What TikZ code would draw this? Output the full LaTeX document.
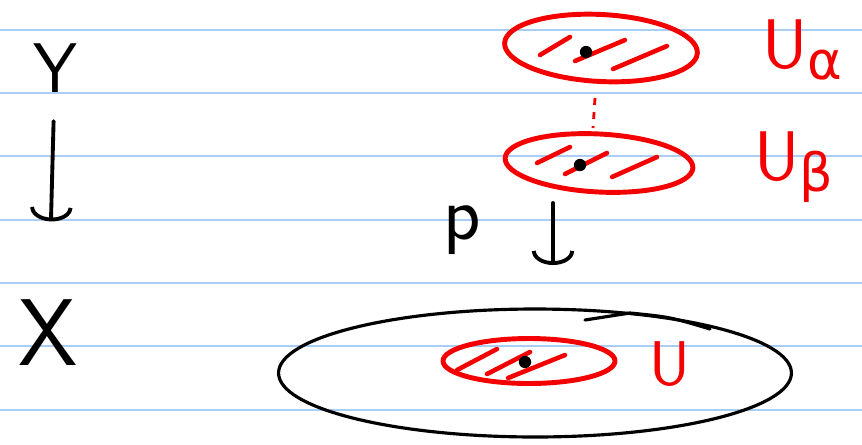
\documentclass[tikz,border=0pt]{standalone}
\usepackage{fontspec}
\newfontfamily\greek{DejaVu Sans}
\usepackage{tikz}
\usetikzlibrary{shapes.geometric, arrows.meta, positioning, calc}
\definecolor{rulecol}{RGB}{170,205,245}
\definecolor{pen}{RGB}{245,0,0}

\begin{document}
\begin{tikzpicture}[x=0.02cm, y=-0.02cm,
  rule/.style={draw=rulecol, line width=1pt},
  region/.style={draw=pen, ellipse, line width=2.8pt, inner sep=0pt},
  base/.style={draw, ellipse, line width=1.8pt, inner sep=0pt},
  hatch/.style={pen, line width=2.6pt, line cap=round},
  arrow/.style={-{Arc Barb[length=8pt, width=24pt]}, line width=2.2pt, line cap=round},
  lbl/.style={font=\fontsize{40}{44}\selectfont\sffamily},
  spot/.style={circle, fill, inner sep=0pt, minimum size=7pt}]
  \useasboundingbox[fill=white] (0,0) rectangle (862,444);
  % ruled paper
  \foreach \y in {30,93,156,220,283,346,410}
    \draw[rule] (0,\y) -- (862,\y);
  % spaces and projection
  \node[lbl] (Y) at (55,68) {Y};
  \node[lbl, font=\fontsize{54}{58}\selectfont\sffamily] (X) at (48,333) {X};
  \draw[arrow, shorten <=0.45cm, shorten >=1.45cm] (Y) -- (X);
  \node[lbl, font=\fontsize{44}{48}\selectfont\sffamily] (p) at (462,230) {p};
  \coordinate (ptop) at (553,203);
  \coordinate (pbot) at (553,265);
  \draw[arrow] (ptop) -- (pbot);
  % base space
  \node[base, minimum width=10.26cm, minimum height=2.56cm] (Xe) at (535,373) {};
  \draw[line width=1.8pt, line cap=round] (585,320) -- (630,313) .. controls (670,317) .. (710,329);
  \node[region, minimum width=3.44cm, minimum height=0.9cm] (u) at (529,361) {};
  \draw[hatch] (457,370) -- (497,349);
  \draw[hatch] (487,374) -- (530,352);
  \draw[hatch] (508,378) -- (565,355);
  \node[spot] (xu) at (525,362) {};
  \node[lbl, pen, font=\fontsize{36}{40}\selectfont\sffamily] (lu) at (670,364) {U};
  % sheets over U
  \node[region, rotate=-3, minimum width=3.86cm, minimum height=1.34cm] (ua) at (601,48) {};
  \draw[hatch] (540,55) -- (570,37);
  \draw[hatch] (575,61) -- (625,40);
  \draw[hatch] (613,69) -- (667,46);
  \node[spot] (xa) at (586,52) {};
  \node[region, rotate=-3, minimum width=3.76cm, minimum height=1.16cm] (ub) at (599,163) {};
  \draw[hatch] (537,163) -- (570,147);
  \draw[hatch] (565,174) -- (607,153);
  \draw[hatch] (612,177) -- (657,157);
  \node[spot] (xb) at (580,165) {};
  \coordinate (dtop) at (595,98);
  \coordinate (dbot) at (593,128);
  \draw[pen, line width=1.6pt, dash pattern=on 4pt off 4pt] (dtop) -- (dbot);
  \node[lbl, pen] (la) at (802,50) {U\raisebox{-0.35ex}{\fontsize{30}{34}\greek α}};
  \node[lbl, pen] (lb) at (794,167) {U\raisebox{-0.35ex}{\fontsize{30}{34}\greek β}};
\end{tikzpicture}
\end{document}
